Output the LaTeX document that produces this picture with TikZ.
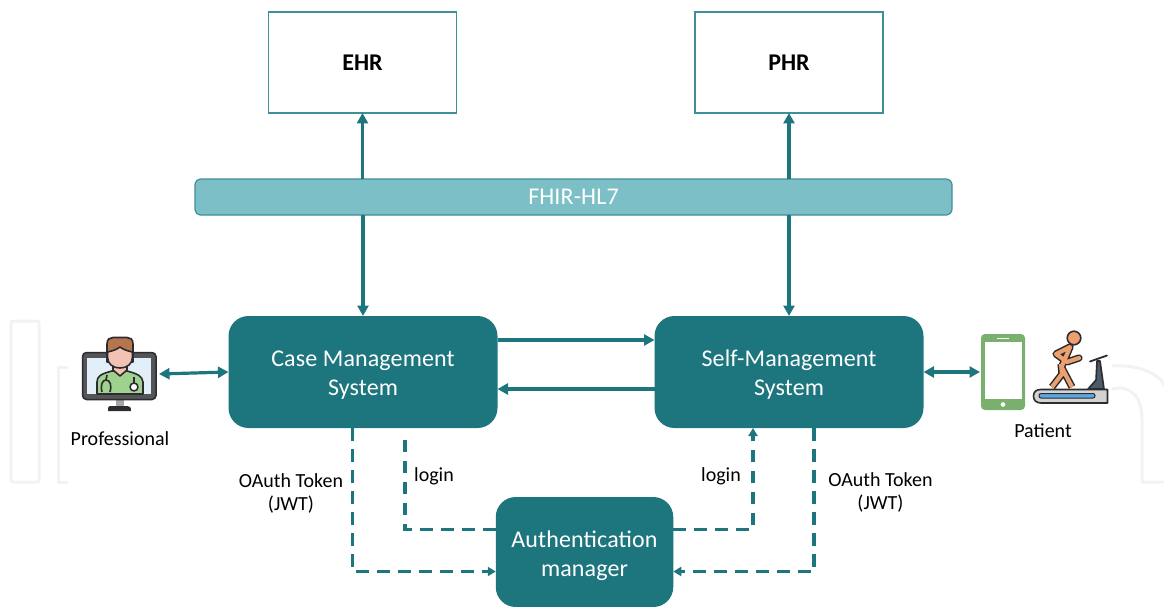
\documentclass[tikz,border=0pt]{standalone}
\usepackage{fontspec}
\setmainfont{Carlito}
\newfontfamily\spacedfont[LetterSpace=0.5]{Carlito}
\usetikzlibrary{arrows.meta}
\definecolor{teal1}{HTML}{1D757E}
\definecolor{barfill}{HTML}{7DBFC6}
\definecolor{barline}{HTML}{3F8F98}
\definecolor{wm}{HTML}{F1F3F3}
\definecolor{outl}{HTML}{2B2B30}
\definecolor{orangeb}{HTML}{EE9F6E}
\definecolor{phoneg}{HTML}{7BAF6E}
\definecolor{hairc}{HTML}{B5754D}
\definecolor{facec}{HTML}{F2C3B3}
\definecolor{scrubs}{HTML}{9FD18F}
\definecolor{screenc}{HTML}{E3EFF8}
\definecolor{beltc}{HTML}{5AA9E0}
\definecolor{postc}{HTML}{4D5A68}
\tikzset{
  x=1pt,y=-1pt,
  sysbox/.style={fill=teal1,draw=none,rounded corners=20pt,inner sep=0pt,outer sep=0pt},
  systext/.style={text=white,align=center,inner sep=0pt,outer sep=0pt,
     font=\spacedfont\fontsize{24}{29}\selectfont},
  recbox/.style={draw=barline,fill=white,line width=1.4pt,minimum width=188pt,minimum height=101pt,inner sep=0pt,outer sep=0pt,
     font=\bfseries\fontsize{24}{26}\selectfont},
  lab/.style={inner sep=0pt,align=center,font=\fontsize{20}{23}\selectfont},
  solidarrow/.style={draw=teal1,line width=3.2pt,-{Triangle[length=10.5pt,width=11pt]}},
  bothways/.style={draw=teal1,line width=3.2pt,{Triangle[length=10.5pt,width=11pt]}-{Triangle[length=10.5pt,width=11pt]}},
  dasharrow/.style={draw=teal1,line width=3.2pt,dash pattern=on 12.5pt off 8.5pt},
  dashtip/.style={-{Triangle[length=8pt,width=9pt]}},
  mark line/.style={draw=wm,line width=3pt,line join=round},
  ol/.style={draw=outl,line width=1.6pt,line join=round},
}
\begin{document}
\begin{tikzpicture}
\useasboundingbox (0,0) rectangle (1164,607);
% faint background lettering
\draw[mark line,rounded corners=2pt] (11,321) rectangle (39,482);
\draw[mark line] (68,367.5) -- (58,367.5) -- (58,482) -- (68,482);
\draw[mark line] (1112,366) .. controls (1140,364) and (1160,375) .. (1164,385);
\draw[mark line] (1112,389) .. controls (1130,385) and (1142,395) .. (1142,420) -- (1142,482) -- (1164,482);

% nodes
\node[recbox] (ehr) at (362.5,62.5) {EHR};
\node[recbox] (phr) at (789,62.5) {PHR};
\node[fill=barfill,draw=barline,line width=1.2pt,rounded corners=6pt,minimum width=757pt,minimum height=36pt,inner sep=0pt,outer sep=0pt,
      text=white,font=\spacedfont\fontsize{24}{26}\selectfont] (fhir) at (573.5,197) {FHIR-HL7};
\node[sysbox,minimum width=269pt,minimum height=112pt] (cms) at (363,372) {};
\node[sysbox,minimum width=269pt,minimum height=112pt] (sms) at (789,372) {};
\node[sysbox,minimum width=177.5pt,minimum height=110pt] (auth) at (584.5,552) {};
\node[systext] (cmstext) at (363,375) {Case Management\\System};
\node[systext] (smstext) at (789,375) {Self-Management\\System};
\node[systext] (authtext) at (584.5,556) {Authentication\\manager};

\node[lab] (proflab) at (120,438.5) {Professional};
\node[lab] (patlab) at (1043,430.5) {Patient};
\node[lab] (oa1) at (291,493.5) {OAuth Token\\(JWT)};
\node[lab] (oa2) at (880.5,492.5) {OAuth Token\\(JWT)};
\node[lab] (log1) at (434,476) {login};
\node[lab] (log2) at (721,476) {login};

\coordinate (profpt) at (159,374);
\coordinate (patpt) at (980,372);

% solid connectors
\draw[solidarrow] (fhir.north -| ehr.south) -- (ehr.south);
\draw[solidarrow] (fhir.north -| phr.south) -- (phr.south);
\draw[solidarrow] (fhir.south -| cms.north) -- (cms.north);
\draw[solidarrow] (fhir.south -| sms.north) -- (sms.north);
\draw[solidarrow] ([yshift=32pt]cms.east) -- ([yshift=32pt]sms.west);
\draw[solidarrow] ([yshift=-17pt]sms.west) -- ([yshift=-17pt]cms.east);
\draw[bothways] (profpt) -- (cms.west);
\draw[bothways] (sms.east) -- (patpt);

% dashed connectors
\draw[dasharrow,dashtip] ([xshift=-10.5pt]cms.south) |- ([yshift=-19.5pt]auth.west);
\draw[dasharrow] ([yshift=22.5pt]auth.west) -| ([xshift=42pt,yshift=-7pt]cms.south);
\draw[dasharrow,dashtip] ([yshift=22.5pt]auth.east) -| ([xshift=-36pt]sms.south);
\draw[dasharrow,dashtip] ([xshift=25pt]sms.south) |- ([yshift=-19.5pt]auth.east);

% professional icon
\begin{scope}
  \fill[outl] (108,411) -- (108,408) .. controls (108,406) and (110,406) .. (112,406) -- (127,406) .. controls (130,406) and (131,407) .. (131,411) -- cycle;
  \fill[gray!70] (116,398) rectangle (124,406);
  \draw[ol,fill=outl!80!white,rounded corners=4pt,line width=1.5pt] (82.5,352.5) rectangle (156,399.5);
  \fill[screenc] (87,358) rectangle (151,394);
  \draw[ol,fill=scrubs] (97,394) -- (97,382) .. controls (97,376) and (101,374) .. (112,371) -- (127,371) .. controls (138,374) and (142,376) .. (143,382) -- (143,394) -- cycle;
  \draw[ol,fill=white] (134,387) circle (4);
  \draw[ol] (134,383) -- (134,377);
  \draw[ol] (102,392) .. controls (100,384) and (103,380) .. (106,380) .. controls (110,380) and (112,385) .. (110,392);
  \draw[ol] (106,380) -- (107,375);
  \draw[ol,fill=facec] (113,360) -- (113,370) -- (120,376) -- (127,370) -- (127,360) -- cycle;
  \draw[ol,fill=hairc] (107,362) -- (107,344) .. controls (107,339) and (110,337.5) .. (113,337.5) -- (127,337.5) .. controls (130,337.5) and (133,339) .. (133,344) -- (133,362) -- cycle;
  \draw[ol,fill=facec] (107.5,352) .. controls (112,351) and (116,350) .. (120,347) .. controls (124,350) and (128,351) .. (132.5,352)
     -- (132.5,357) .. controls (132.5,364) and (127,368) .. (120,368) .. controls (113,368) and (107.5,364) .. (107.5,357) -- cycle;
\end{scope}

% phone
\fill[phoneg,rounded corners=4pt] (981,334) rectangle (1025,410);
\fill[white] (985,342) rectangle (1022,399);
\draw[white,line width=1pt] (997,338.5) -- (1009,338.5);
\fill[white] (1003,404.5) circle (2.3);

% treadmill
\draw[ol,fill=postc] (1088,389) -- (1096,380) -- (1097,361) -- (1100,361) -- (1104,389) -- cycle;
\draw[ol,line width=1.8pt,line cap=round] (1090,361.5) -- (1107,355.5);
\draw[ol,fill=gray!35!white,line width=1.6pt] (1107.5,389.5) -- (1041,389.5) .. controls (1036,389.5) and (1033.5,392) .. (1033.5,396) .. controls (1033.5,400) and (1036,403) .. (1041,403) -- (1107.5,403) -- cycle;
\draw[outl,fill=beltc,line width=1pt,rounded corners=2pt] (1039,393.5) rectangle (1095,398);

% runner
\draw[outl,line width=7.2pt,line join=round] (1052,387) -- (1062,374) -- (1061,364) (1072,387) -- (1062,368);
\draw[outl,line width=7.2pt,line cap=round,line join=round] (1062,366) -- (1070,347) -- (1056,354) -- (1067,362) -- (1079,358);
\draw[orangeb,line width=4.2pt,line join=round] (1052,387) -- (1062,374) -- (1061,364) (1072,387) -- (1062,368);
\draw[orangeb,line width=4.2pt,line cap=round,line join=round] (1062,366) -- (1070,347) -- (1056,354) -- (1067,362) -- (1079,358);
\draw[ol,fill=orangeb] (1074,338) circle (6.8);
\end{tikzpicture}
\end{document}
